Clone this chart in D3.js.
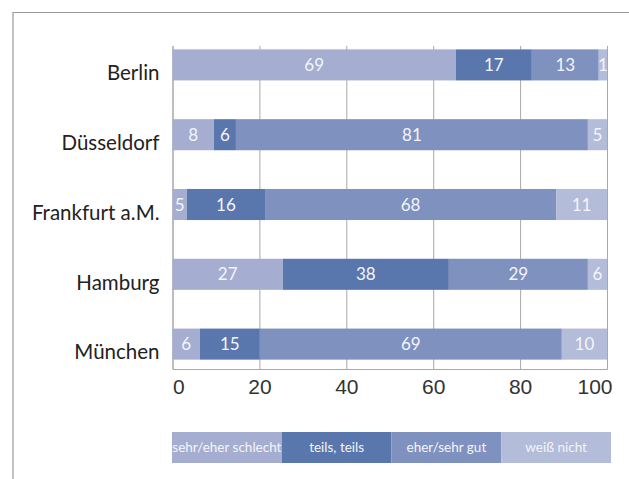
<!DOCTYPE html>
<html>
<head>
<meta charset="utf-8">
<script src="https://cdn.jsdelivr.net/npm/d3@7"></script>
<style>
    html, body { margin: 0; padding: 0; background: #fff; }
    svg { display: block; font-family: Lato, "Open Sans", sans-serif; }
</style>
</head>
<body>
<svg width="629" height="479"></svg>
<script>
(function() {

    "use strict";

    var cities = ["Berlin", "Düsseldorf", "Frankfurt a.M.", "Hamburg", "München"];
    var seriesNames = ["sehr/eher schlecht", "teils, teils", "eher/sehr gut", "weiß nicht"];
    var xTicks = [0, 20, 40, 60, 80, 100];

    // bar lengths as drawn in the source chart
    var schlecht = [65.2, 9.5, 3.3, 25.4, 6.3];
    var teils = [17.5, 5.1, 18.0, 38.2, 13.8];
    var gut = [15.4, 81.0, 67.0, 32.0, 69.5];
    var weissNicht = [1.9, 4.4, 11.7, 4.4, 10.4];

    // the printed numbers (not always equal to the bar lengths)
    var schlechtText = [69, 8, 5, 27, 6];
    var teilsText = [17, 6, 16, 38, 15];
    var gutText = [13, 81, 68, 29, 69];
    var weissNichtText = [1, 5, 11, 6, 10];

    var colors = ["#a5aed0", "#5a77ad", "#7f91bf", "#b3bcd8"];

    var values = [schlecht, teils, gut, weissNicht];
    var texts = [schlechtText, teilsText, gutText, weissNichtText];

    var rows = cities.map(function(city, i) {
        var row = {city: city};
        seriesNames.forEach(function(name, j) {
            row[name] = values[j][i];
        });
        return row;
    });

    var svg = d3.select("svg");

    // frame
    svg.append("path")
        .attr("d", "M13,479V12.5H629")
        .attr("fill", "none")
        .attr("stroke", "#9a9a9a")
        .attr("stroke-width", 1.2);

    var plotTop = 46;
    var plotBottom = 369;

    var x = d3.scaleLinear()
        .domain([0, 100])
        .range([172.5, 607]);

    var y = d3.scaleBand()
        .domain(cities)
        .range([30, 379])
        .paddingInner(0.555)
        .paddingOuter(0.2775);

    // grid + tick labels
    var axis = svg.append("g")
        .attr("transform", "translate(0," + plotBottom + ")")
        .call(d3.axisBottom(x)
            .tickValues(xTicks)
            .tickSize(-(plotBottom - plotTop))
            .tickPadding(10));

    axis.select(".domain").attr("stroke", "#a8a8a8");
    axis.selectAll(".tick line").attr("stroke", "#a8a8a8");
    axis.selectAll(".tick text")
        .attr("fill", "#333")
        .style("font-size", "21px")
        .attr("text-anchor", function(d) {
            if (d === 0) { return "start"; }
            if (d === 100) { return "end"; }
            return "middle";
        })
        .attr("dx", function(d) { return d === 100 ? 5 : 0; });

    var stack = d3.stack().keys(seriesNames);
    var layers = stack(rows);

    var layer = svg.selectAll(".layer")
        .data(layers)
        .enter().append("g")
        .attr("class", "layer")
        .attr("fill", function(d, i) { return colors[i]; });

    layer.selectAll("rect")
        .data(function(d) { return d; })
        .enter().append("rect")
        .attr("x", function(d) { return x(d[0]); })
        .attr("y", function(d) { return y(d.data.city); })
        .attr("width", function(d) { return x(d[1]) - x(d[0]); })
        .attr("height", y.bandwidth());

    layer.selectAll("text")
        .data(function(d, i) {
            return d.map(function(seg, k) {
                return {seg: seg, label: texts[i][k]};
            });
        })
        .enter().append("text")
        .attr("x", function(d) { return (x(d.seg[0]) + x(d.seg[1])) / 2; })
        .attr("y", function(d) { return y(d.seg.data.city) + y.bandwidth() / 2; })
        .attr("dy", "0.36em")
        .attr("text-anchor", "middle")
        .attr("fill", "#f4f5fa")
        .style("font-size", "17px")
        .text(function(d) { return d.label; });

    // city labels
    svg.append("g").selectAll("text")
        .data(cities)
        .enter().append("text")
        .attr("x", 159.5)
        .attr("y", function(d) { return y(d) + y.bandwidth() / 2 + 8; })
        .attr("dy", "0.36em")
        .attr("text-anchor", "end")
        .attr("fill", "#222")
        .style("font-size", "20.5px")
        .text(function(d) { return d; });

    // legend
    var lx = d3.scaleBand()
        .domain(seriesNames)
        .range([172, 611]);

    var legend = svg.append("g").selectAll("g")
        .data(seriesNames)
        .enter().append("g")
        .attr("transform", function(d) { return "translate(" + lx(d) + ",432)"; });

    legend.append("rect")
        .attr("width", lx.bandwidth())
        .attr("height", 31)
        .attr("fill", function(d, i) { return colors[i]; });

    legend.append("text")
        .attr("x", lx.bandwidth() / 2)
        .attr("y", 15.5)
        .attr("dy", "0.36em")
        .attr("text-anchor", "middle")
        .attr("fill", "#f4f5fa")
        .style("font-size", "13.5px")
        .text(function(d) { return d; });

}());
</script>
</body>
</html>
